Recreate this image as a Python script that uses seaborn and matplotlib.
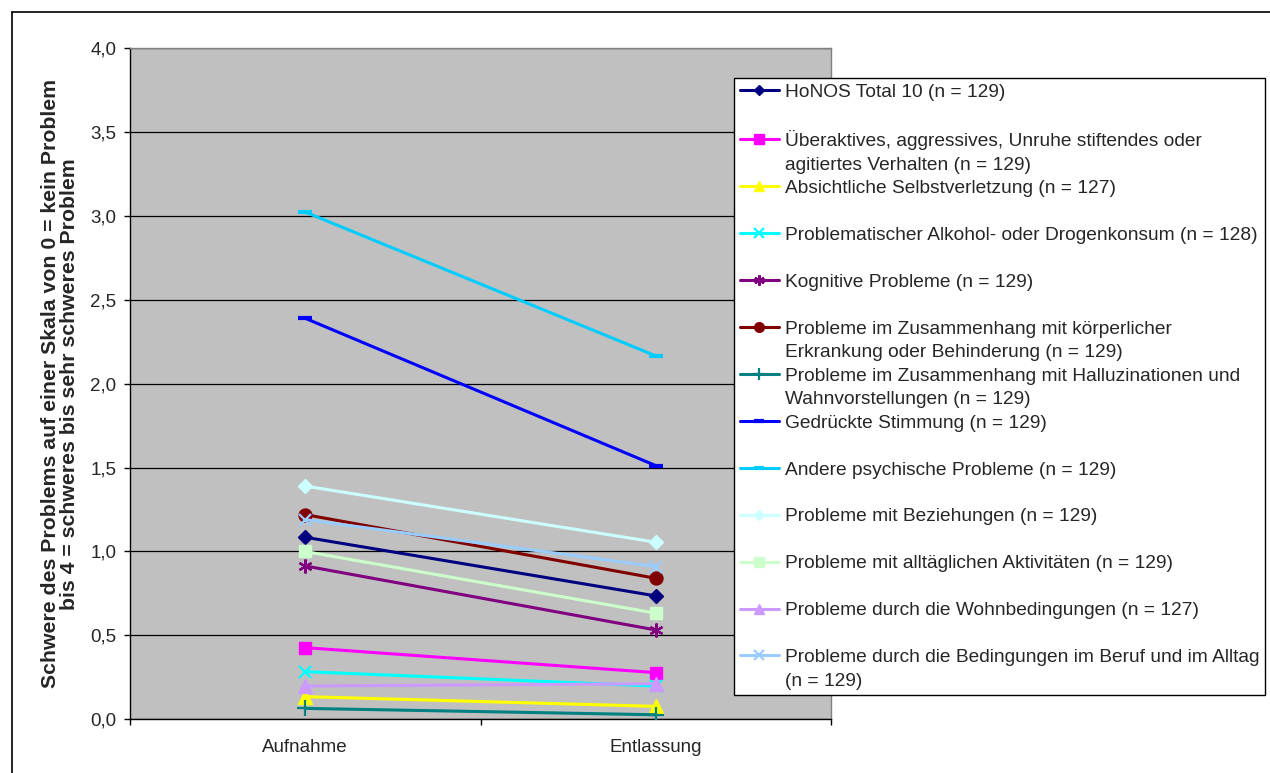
import numpy as np
import pandas as pd
import matplotlib
matplotlib.use("Agg")
import matplotlib.pyplot as plt
from matplotlib.lines import Line2D
import seaborn as sns

# ---------------- data ----------------
zeitpunkte = ["Aufnahme", "Entlassung"]

serien = [
    "HoNOS Total 10 (n = 129)",
    "Überaktives, aggressives, Unruhe stiftendes oder\nagitiertes Verhalten (n = 129)",
    "Absichtliche Selbstverletzung (n = 127)",
    "Problematischer Alkohol- oder Drogenkonsum (n = 128)",
    "Kognitive Probleme (n = 129)",
    "Probleme im Zusammenhang mit körperlicher\nErkrankung oder Behinderung (n = 129)",
    "Probleme im Zusammenhang mit Halluzinationen und\nWahnvorstellungen (n = 129)",
    "Gedrückte Stimmung (n = 129)",
    "Andere psychische Probleme (n = 129)",
    "Probleme mit Beziehungen (n = 129)",
    "Probleme mit alltäglichen Aktivitäten (n = 129)",
    "Probleme durch die Wohnbedingungen (n = 127)",
    "Probleme durch die Bedingungen im Beruf und im Alltag\n(n = 129)",
]

honos_total = [1.085, 0.735]
ueberaktiv = [0.427, 0.278]
selbstverletzung = [0.135, 0.077]
alkohol_drogen = [0.284, 0.198]
kognitiv = [0.914, 0.532]
koerperlich = [1.22, 0.84]
halluzinationen = [0.065, 0.027]
gedrueckt = [2.39, 1.511]
andere = [3.023, 2.165]
beziehungen = [1.39, 1.055]
alltag_aktiv = [1.00, 0.632]
wohnen = [0.198, 0.212]
beruf_alltag = [1.19, 0.91]

werte = [honos_total, ueberaktiv, selbstverletzung, alkohol_drogen, kognitiv,
         koerperlich, halluzinationen, gedrueckt, andere, beziehungen,
         alltag_aktiv, wohnen, beruf_alltag]

y_ticks = [0.0, 0.5, 1.0, 1.5, 2.0, 2.5, 3.0, 3.5, 4.0]
y_tick_labels = ["0,0", "0,5", "1,0", "1,5", "2,0", "2,5", "3,0", "3,5", "4,0"]

y_titel = ("Schwere des Problems auf einer Skala von 0 = kein Problem\n"
           "bis 4 = schweres bis sehr schweres Problem")

# ---------------- styles ----------------
farben = ["#000080", "#FF00FF", "#FFFF00", "#00FFFF", "#800080", "#800000",
          "#008080", "#0000FF", "#00CCFF", "#CCFFFF", "#CCFFCC", "#CC99FF",
          "#99CCFF"]
marker = ["D", "s", "^", "x", (6, 2, 0), "o", "+", "_", "_", "D", "s", "^", "x"]
msize = {"D": 7.2, "s": 9.3, "^": 9.8, "x": 8.8, "o": 9.3, "+": 11.0, "_": 9.5}
mwidth = {"D": 1.0, "s": 1.0, "^": 1.0, "x": 1.6, "o": 1.0, "+": 1.6, "_": 3.0}

sns.set_style("white")
plt.rcParams["font.family"] = ["Liberation Sans", "DejaVu Sans"]

W, H = 1270, 773
fig = plt.figure(figsize=(W / 100, H / 100), dpi=100)
fig.patch.set_facecolor("white")

ax = fig.add_axes([129.5 / W, 1 - 719.3 / H, 702 / W, 671.3 / H])
ax.set_facecolor("#C0C0C0")

linien = []
for name, vals, col, mk in zip(serien, werte, farben, marker):
    df = pd.DataFrame({"Zeitpunkt": zeitpunkte, "Wert": vals})
    key = mk if isinstance(mk, str) else "*"
    ms = msize.get(key, 10.0)
    mw = mwidth.get(key, 1.6)
    sns.lineplot(data=df, x="Zeitpunkt", y="Wert", ax=ax, color=col,
                 marker=mk, markersize=ms, markeredgecolor=col,
                 markerfacecolor=col, markeredgewidth=mw, linewidth=2.2,
                 legend=False, zorder=3)
    linien.append(ax.lines[-1])

ax.set_xlim(-0.5, 1.5)
ax.set_ylim(0, 4)
ax.set_yticks(y_ticks)
ax.set_yticklabels(y_tick_labels)
ax.set_xticks([0, 1])
ax.set_xticklabels(zeitpunkte)
ax.set_xticks([-0.5, 0.5, 1.5], minor=True)
ax.set_xlabel("")

ax.set_axisbelow(True)
ax.yaxis.grid(True, color="black", linewidth=0.9)
ax.xaxis.grid(False)

ax.tick_params(axis="y", length=4.3, width=1, direction="out", labelsize=13.5,
               pad=5, color="black", left=True)
ax.tick_params(axis="x", which="major", length=0, pad=14, labelsize=13.5)
ax.tick_params(axis="x", which="minor", length=4.3, width=1, direction="out",
               color="black", bottom=True)

for s in ["left", "bottom"]:
    ax.spines[s].set_color("black")
    ax.spines[s].set_linewidth(1.0)
for s in ["top", "right"]:
    ax.spines[s].set_color("#808080")
    ax.spines[s].set_linewidth(1.0)

ax.set_ylabel(y_titel, fontsize=15.3, fontweight="bold",
              family=["Liberation Sans", "DejaVu Sans"],
              linespacing=1.0)
ax.yaxis.set_label_coords(-0.072, 0.5)

# ---------------- legend ----------------
handles, labels = [], []
for h, name in zip(linien, serien):
    teile = name.split("\n")
    handles.append(h)
    labels.append(teile[0])
    handles.append(Line2D([], [], linestyle="none"))
    labels.append(teile[1] if len(teile) > 1 else " ")

leg = fig.legend(handles, labels, loc="upper left",
                 bbox_to_anchor=(734 / W, 1 - 77.5 / H),
                 bbox_transform=fig.transFigure, borderaxespad=0,
                 frameon=True, fancybox=False, edgecolor="black",
                 framealpha=1, facecolor="white", fontsize=13.8,
                 labelspacing=0.315, handlelength=2.05, handletextpad=0.3,
                 borderpad=0.3, markerscale=0.75)
leg.get_frame().set_linewidth(1.0)

# outer chart border (left and top visible)
fig.add_artist(Line2D([12 / W, 12 / W], [0, 1 - 12 / H],
                      transform=fig.transFigure, color="black", lw=1.2))
fig.add_artist(Line2D([12 / W, 1], [1 - 12 / H, 1 - 12 / H],
                      transform=fig.transFigure, color="black", lw=1.2))

fig.savefig("out.png", dpi=100, facecolor="white")
